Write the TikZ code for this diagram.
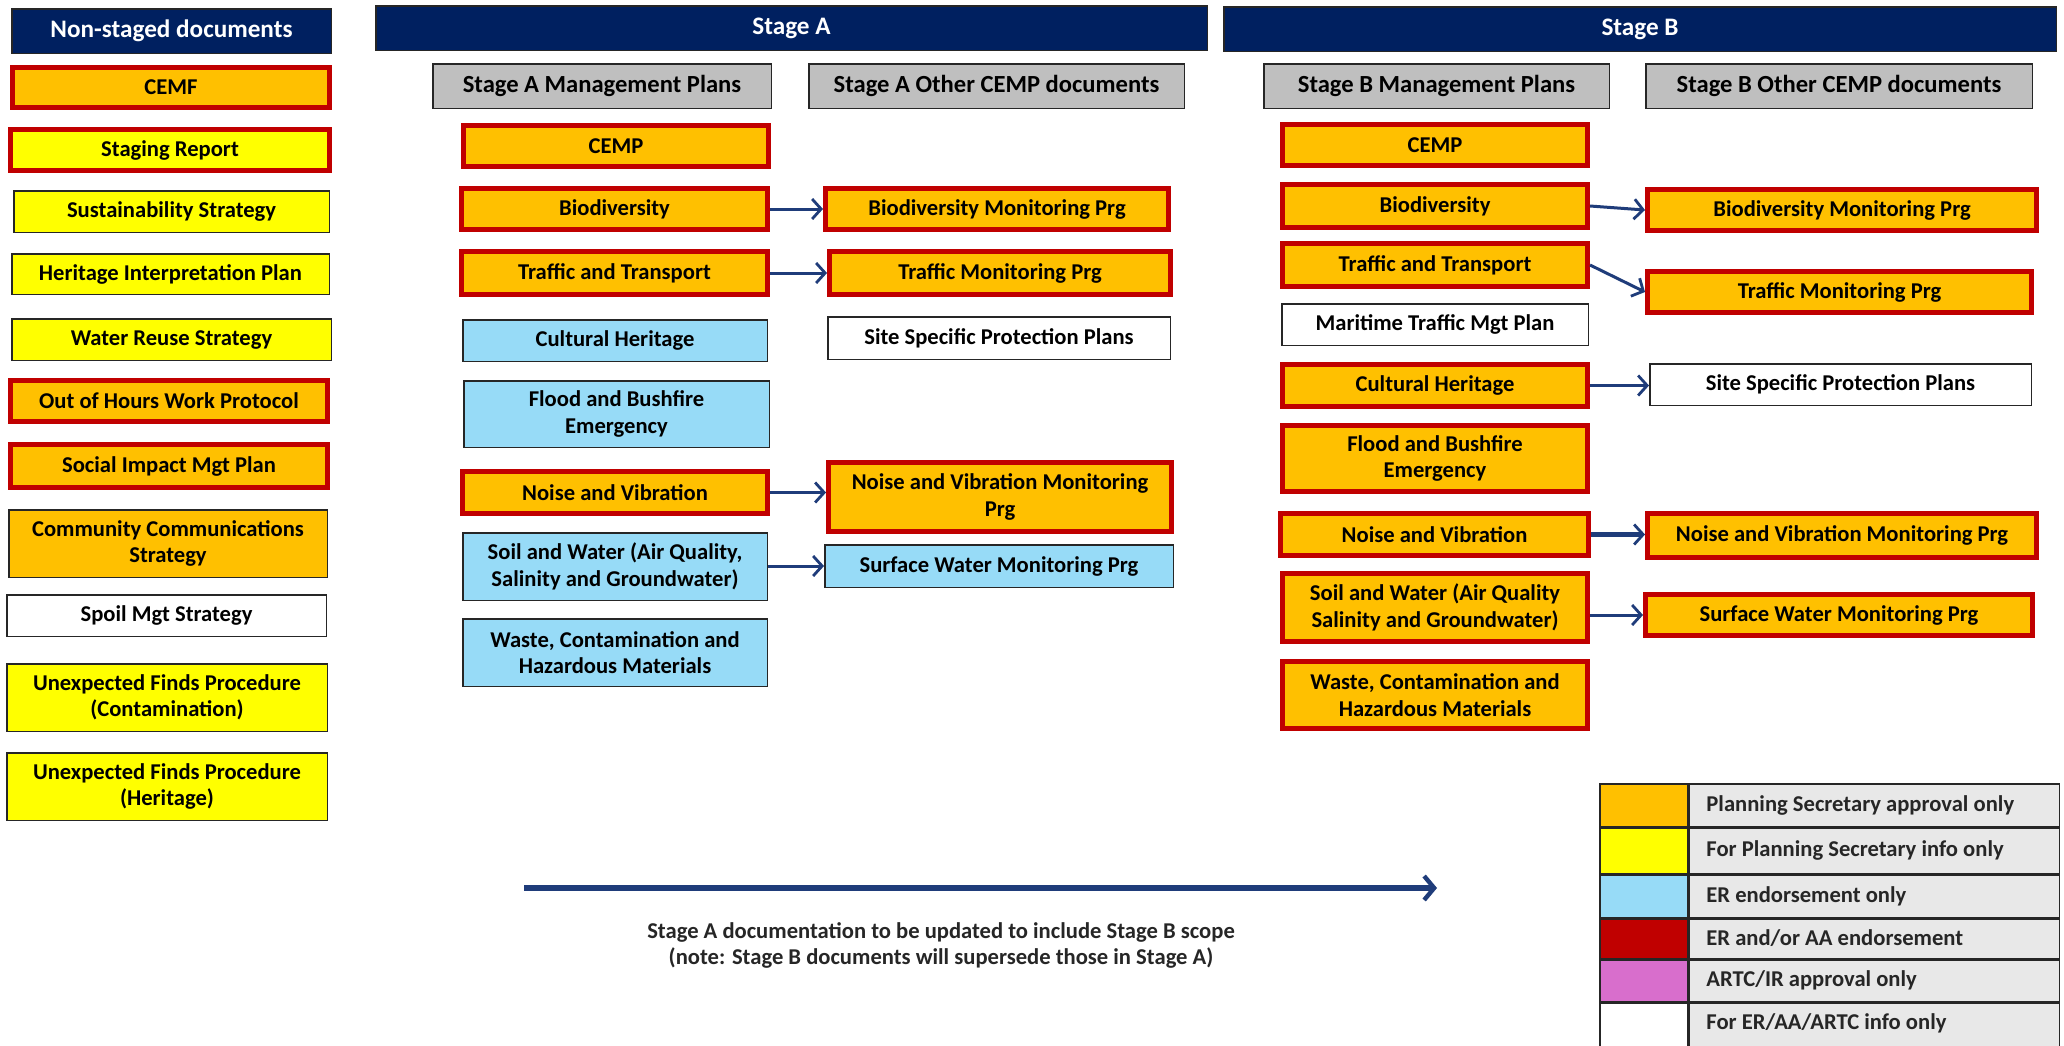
\documentclass[tikz,border=0pt]{standalone}
\usepackage{fontspec}
\setmainfont{Carlito}
\usetikzlibrary{arrows.meta}
\definecolor{navy}{HTML}{002060}
\definecolor{orng}{HTML}{FFC000}
\definecolor{yel}{HTML}{FFFF00}
\definecolor{lblue}{HTML}{97DBF7}
\definecolor{dred}{HTML}{C00000}
\definecolor{gry}{HTML}{BFBFBF}
\definecolor{lgry}{HTML}{E8E8E8}
\definecolor{pnk}{HTML}{D86ECC}
\definecolor{arr}{HTML}{1F3C7A}
\definecolor{edge}{HTML}{262626}
\tikzset{
 base/.style={rectangle, inner sep=0pt, align=center, font=\fontsize{11.3}{13.2}\selectfont\bfseries, text=black},
 plain/.style={base, draw=edge, line width=0.75pt},
 redb/.style={base, draw=dred, line width=2.4pt},
 hdr/.style={base, draw=edge, line width=0.75pt, fill=navy, text=white, font=\fontsize{12.6}{14}\selectfont\bfseries},
 sub/.style={plain, fill=gry, font=\fontsize{12.3}{14}\selectfont\bfseries},
 conn/.style={draw=arr, line width=1.5pt, -{Straight Barb[length=4.5pt,width=10pt,line width=1.4pt]}},
 bigarr/.style={draw=arr, line width=2.8pt, -{Straight Barb[length=5pt,width=12pt,line width=2.2pt]}},
 legtxt/.style={anchor=west, inner sep=0pt, font=\fontsize{11.3}{13.2}\selectfont\bfseries, text=black!85},
 note/.style={align=center, inner sep=0pt, font=\fontsize{11.3}{13}\selectfont\bfseries, text=black!85},
}
\newcommand\bx[7]{\node[#1, minimum width={0.5pt*(#5-#3)-\pgflinewidth}, minimum height={0.5pt*(#6-#4)-\pgflinewidth}] (#2) at ({(#3+#5)/2},{(#4+#6)/2}) {#7};}
\begin{document}
\begin{tikzpicture}[x=0.5pt,y=-0.5pt]
\useasboundingbox (0,0) rectangle (2064,1045);
\fill[white] (0,0) rectangle (2064,1045);
% Non-staged column
\bx{hdr}{ns}{11}{8}{332}{54}{Non-staged documents}
\bx{redb,fill=orng}{cemf}{10}{65}{332}{110}{CEMF}
\bx{redb,fill=yel}{stg}{8}{127}{332}{173}{Staging Report}
\bx{plain,fill=yel}{sus}{13}{190}{330}{233}{Sustainability Strategy}
\bx{plain,fill=yel}{hip}{11}{253}{330}{295}{Heritage Interpretation Plan}
\bx{plain,fill=yel}{wrs}{11}{318}{332}{361}{Water Reuse Strategy}
\bx{redb,fill=orng}{ooh}{8}{378}{330}{424}{Out of Hours Work Protocol}
\bx{redb,fill=orng}{sim}{8}{442}{330}{490}{Social Impact Mgt Plan}
\bx{plain,fill=orng}{ccs}{8}{509}{328}{578}{Community Communications\\Strategy}
\bx{plain,fill=white}{spoil}{6}{594}{327}{637}{Spoil Mgt Strategy}
\bx{plain,fill=yel}{ufpc}{6}{663}{328}{732}{Unexpected Finds Procedure\\(Contamination)}
\bx{plain,fill=yel}{ufph}{6}{752}{328}{821}{Unexpected Finds Procedure\\(Heritage)}
% Stage A
\bx{hdr}{sa}{375}{5}{1208}{51}{Stage A}
\bx{sub}{mgA}{432}{63}{772}{109}{Stage A Management Plans}
\bx{sub}{otA}{808}{63}{1185}{109}{Stage A Other CEMP documents}
\bx{redb,fill=orng}{cempA}{461}{123}{771}{169}{CEMP}
\bx{redb,fill=orng}{biodA}{459}{186}{770}{232}{Biodiversity}
\bx{redb,fill=orng}{biodmA}{823}{186}{1171}{232}{Biodiversity Monitoring Prg}
\bx{redb,fill=orng}{trafA}{459}{249}{770}{297}{Traffic and Transport}
\bx{redb,fill=orng}{trafmA}{827}{249}{1173}{297}{Traffic Monitoring Prg}
\bx{plain,fill=lblue}{cultA}{462}{319}{768}{362}{Cultural Heritage}
\bx{plain,fill=white}{siteA}{827}{316}{1171}{360}{Site Specific Protection Plans}
\bx{plain,fill=lblue}{floodA}{463}{380}{770}{448}{Flood and Bushfire\\Emergency}
\bx{redb,fill=orng}{noiseA}{460}{469}{770}{516}{Noise and Vibration}
\bx{redb,fill=orng}{noisemA}{826}{460}{1174}{534}{Noise and Vibration Monitoring\\Prg}
\bx{plain,fill=lblue}{soilA}{462}{532}{768}{601}{Soil and Water (Air Quality,\\Salinity and Groundwater)}
\bx{plain,fill=lblue}{surfA}{824}{544}{1174}{588}{Surface Water Monitoring Prg}
\bx{plain,fill=lblue}{wasteA}{462}{618}{768}{687}{Waste, Contamination and\\Hazardous Materials}
% Stage B
\bx{hdr}{sb}{1223}{6}{2057}{52}{Stage B}
\bx{sub}{mgB}{1263}{63}{1610}{109}{Stage B Management Plans}
\bx{sub}{otB}{1645}{63}{2033}{109}{Stage B Other CEMP documents}
\bx{redb,fill=orng}{cempB}{1280}{122}{1590}{168}{CEMP}
\bx{redb,fill=orng}{biodB}{1280}{182}{1590}{230}{Biodiversity}
\bx{redb,fill=orng}{biodmB}{1645}{187}{2039}{233}{Biodiversity Monitoring Prg}
\bx{redb,fill=orng}{trafB}{1280}{241}{1590}{289}{Traffic and Transport}
\bx{redb,fill=orng}{trafmB}{1645}{269}{2034}{315}{Traffic Monitoring Prg}
\bx{plain,fill=white}{marB}{1281}{303}{1589}{346}{Maritime Traffic Mgt Plan}
\bx{redb,fill=orng}{cultB}{1280}{362}{1590}{409}{Cultural Heritage}
\bx{plain,fill=white}{siteB}{1649}{363}{2032}{406}{Site Specific Protection Plans}
\bx{redb,fill=orng}{floodB}{1280}{423}{1590}{494}{Flood and Bushfire\\Emergency}
\bx{redb,fill=orng}{noiseB}{1278}{511}{1591}{558}{Noise and Vibration}
\bx{redb,fill=orng}{noisemB}{1645}{511}{2039}{560}{Noise and Vibration Monitoring Prg}
\bx{redb,fill=orng}{soilB}{1280}{571}{1590}{644}{Soil and Water (Air Quality\\Salinity and Groundwater)}
\bx{redb,fill=orng}{surfB}{1643}{592}{2035}{638}{Surface Water Monitoring Prg}
\bx{redb,fill=orng}{wasteB}{1280}{659}{1590}{731}{Waste, Contamination and\\Hazardous Materials}
% connectors
\draw[conn] (biodA) -- (biodmA);
\draw[conn] (trafA) -- (trafmA);
\draw[conn] (noiseA.east) -- (noiseA.east -| noisemA.west);
\draw[conn] (soilA.east |- surfA.west) -- (surfA.west);
\draw[conn] (biodB.east) -- (biodmB.west);
\draw[conn] (trafB.east) -- (trafmB.west);
\draw[conn] (cultB.east) -- (cultB.east -| siteB.west);
\draw[conn, line width=2.4pt] (noiseB.east) -- (noiseB.east -| noisemB.west);
\draw[conn] (soilB.east |- surfB.west) -- (surfB.west);
% big arrow and note
\coordinate (bs) at (524,888);
\coordinate (be) at (1437,888);
\draw[bigarr] (bs) -- (be);
\node[note] (nt) at (941,945) {Stage A documentation to be updated to include Stage B scope\\(note: Stage B documents will supersede those in Stage A)};
% legend
\begin{scope}
\clip (0,0) rectangle (2064,1045);
\bx{plain,fill=orng}{c1}{1599}{783}{1688}{827}{}
\bx{plain,fill=lgry}{t1}{1688}{783}{2060}{827}{}
\bx{plain,fill=yel}{c2}{1599}{827}{1688}{874}{}
\bx{plain,fill=lgry}{t2}{1688}{827}{2060}{874}{}
\bx{plain,fill=lblue}{c3}{1599}{874}{1688}{918}{}
\bx{plain,fill=lgry}{t3}{1688}{874}{2060}{918}{}
\bx{plain,fill=dred}{c4}{1599}{918}{1688}{959}{}
\bx{plain,fill=lgry}{t4}{1688}{918}{2060}{959}{}
\bx{plain,fill=pnk}{c5}{1599}{959}{1688}{1002}{}
\bx{plain,fill=lgry}{t5}{1688}{959}{2060}{1002}{}
\bx{plain,fill=white}{c6}{1599}{1002}{1688}{1056}{}
\bx{plain,fill=lgry}{t6}{1688}{1002}{2060}{1056}{}
\end{scope}
\node[legtxt] (x1) at ([xshift=9pt]t1.west) {Planning Secretary approval only};
\node[legtxt] (x2) at ([xshift=9pt]t2.west) {For Planning Secretary info only};
\node[legtxt] (x3) at ([xshift=9pt]t3.west) {ER endorsement only};
\node[legtxt] (x4) at ([xshift=9pt]t4.west) {ER and/or AA endorsement};
\node[legtxt] (x5) at ([xshift=9pt]t5.west) {ARTC/IR approval only};
\node[legtxt] (x6) at ([xshift=9pt,yshift=3pt]t6.west) {For ER/AA/ARTC info only};
\end{tikzpicture}
\end{document}
